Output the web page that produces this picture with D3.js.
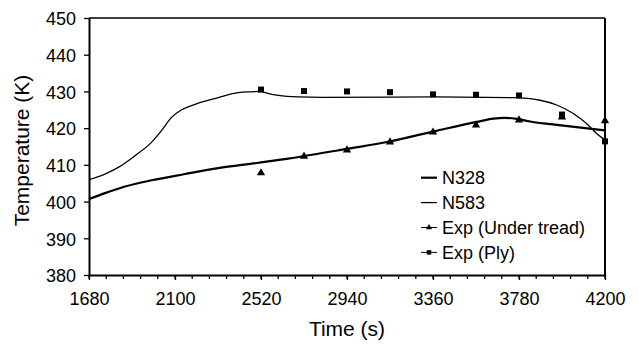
<!DOCTYPE html>
<html>
<head>
<meta charset="utf-8">
<script src="https://cdn.jsdelivr.net/npm/d3@7"></script>
<style>
  body { margin: 0; background: #fff; }
  text { font-family: "Liberation Sans", Arial, sans-serif; fill: #000; }
</style>
</head>
<body>
<svg id="chart" width="638" height="345"></svg>
<script>
// simulated curves [time (s), temperature (K)]
var n328 = [
  [1680, 400.7], [1758, 402.3], [1856, 404.1], [1986, 405.8], [2149, 407.5],
  [2311, 409.1], [2500, 410.5], [2653, 411.7], [2946, 414.4], [3142, 416.3],
  [3370, 419.2], [3573, 421.7], [3655, 422.6], [3710, 422.8], [3770, 422.5],
  [3834, 421.8], [3997, 420.7], [4200, 419.4]
];
var n583 = [
  [1680, 406.0], [1758, 407.5], [1823, 409.3], [1905, 412.5], [1986, 416.2],
  [2035, 419.4], [2084, 423.0], [2133, 425.0], [2198, 426.5], [2311, 428.3],
  [2409, 429.7], [2475, 429.9], [2523, 430.0], [2540, 429.7], [2605, 428.9],
  [2702, 428.5], [2816, 428.4], [3370, 428.5], [3752, 428.3], [3883, 427.6],
  [3964, 426.3], [4045, 424.0], [4111, 421.2], [4160, 418.5], [4200, 416.8]
];
// experiments
var expTimes = [2520, 2730, 2940, 3150, 3360, 3570, 3780, 3990, 4200];
var expTread = [407.8, 412.3, 414.0, 416.2, 418.9, 420.8, 422.2, 423.0, 422.0];
var expPly = [430.5, 430.1, 430.0, 429.8, 429.2, 429.1, 428.9, 423.7, 416.4];
var xTicks = [1680, 2100, 2520, 2940, 3360, 3780, 4200];
var yTicks = [380, 390, 400, 410, 420, 430, 440, 450];

var svg = d3.select("#chart");
var mLeft = 89, mRight = 605, mTop = 18, mBottom = 275;

var x = d3.scaleLinear().domain([1680, 4200]).range([mLeft, mRight]);
var y = d3.scaleLinear().domain([380, 450]).range([mBottom, mTop]);

// frame
svg.append("line").attr("x1", mLeft).attr("x2", mRight).attr("y1", mTop).attr("y2", mTop)
  .attr("stroke", "#000").attr("stroke-width", 1.3);
svg.append("line").attr("x1", mRight).attr("x2", mRight).attr("y1", mTop).attr("y2", mBottom)
  .attr("stroke", "#000").attr("stroke-width", 2);

// minor x ticks
var minor = d3.range(1680, 4201, 84);
svg.append("g").selectAll("line").data(minor).join("line")
  .attr("x1", d => x(d)).attr("x2", d => x(d))
  .attr("y1", mBottom).attr("y2", mBottom + 4)
  .attr("stroke", "#000").attr("stroke-width", 1.3);

var xAxis = svg.append("g")
  .attr("transform", "translate(0," + mBottom + ")")
  .call(d3.axisBottom(x).tickValues(xTicks).tickFormat(d3.format("d"))
    .tickSize(5).tickPadding(12).tickSizeOuter(0));
var yAxis = svg.append("g")
  .attr("transform", "translate(" + mLeft + ",0)")
  .call(d3.axisLeft(y).tickValues(yTicks).tickFormat(d3.format("d"))
    .tickSize(5).tickPadding(8).tickSizeOuter(0));

[xAxis, yAxis].forEach(function (a) {
  a.select(".domain").attr("stroke", "#000").attr("stroke-width", 2);
  a.selectAll(".tick line").attr("stroke", "#000").attr("stroke-width", 1.3);
  a.selectAll("text").style("font-family", "Liberation Sans, Arial, sans-serif")
    .style("font-size", "18px").attr("fill", "#000");
});
yAxis.selectAll(".tick text").attr("dy", "0.38em");

// axis titles
svg.append("text").attr("x", (mLeft + mRight) / 2).attr("y", 336)
  .attr("text-anchor", "middle").style("font-size", "21px").text("Time (s)");
svg.append("text").attr("transform", "translate(29," + ((mTop + mBottom) / 2 + 4) + ") rotate(-90)")
  .attr("text-anchor", "middle").style("font-size", "21px").text("Temperature (K)");

var line = d3.line().x(d => x(d[0])).y(d => y(d[1])).curve(d3.curveMonotoneX);

svg.append("path").datum(n583).attr("d", line)
  .attr("fill", "none").attr("stroke", "#000").attr("stroke-width", 1.3);
svg.append("path").datum(n328).attr("d", line)
  .attr("fill", "none").attr("stroke", "#000").attr("stroke-width", 2.2);

var tri = d3.symbol().type(d3.symbolTriangle).size(30);
var sq = d3.symbol().type(d3.symbolSquare).size(36);

svg.append("g").selectAll("path").data(expTimes).join("path")
  .attr("transform", (d, i) => "translate(" + x(d) + "," + y(expTread[i]) + ")")
  .attr("d", tri).attr("fill", "#000");
svg.append("g").selectAll("path").data(expTimes).join("path")
  .attr("transform", (d, i) => "translate(" + x(d) + "," + y(expPly[i]) + ")")
  .attr("d", sq).attr("fill", "#000");

// legend
var legend = [
  { name: "N328", w: 2.2, m: null },
  { name: "N583", w: 1.3, m: null },
  { name: "Exp (Under tread)", w: 1, m: "tri" },
  { name: "Exp (Ply)", w: 1, m: "sq" }
];
var legTri = d3.symbol().type(d3.symbolTriangle).size(16);
var legSq = d3.symbol().type(d3.symbolSquare).size(20);
var lg = svg.append("g").selectAll("g").data(legend).join("g")
  .attr("transform", (d, i) => "translate(421," + (177.7 + i * 24.9) + ")");
lg.append("line").attr("x1", 0).attr("x2", 16)
  .attr("stroke", "#000").attr("stroke-width", d => d.w);
lg.filter(d => d.m).append("path")
  .attr("transform", "translate(8,0)")
  .attr("d", d => d.m === "sq" ? legSq() : legTri())
  .attr("fill", "#000");
lg.append("text").attr("x", 21).attr("y", 6.6)
  .style("font-size", "18px").text(d => d.name);
</script>
</body>
</html>
